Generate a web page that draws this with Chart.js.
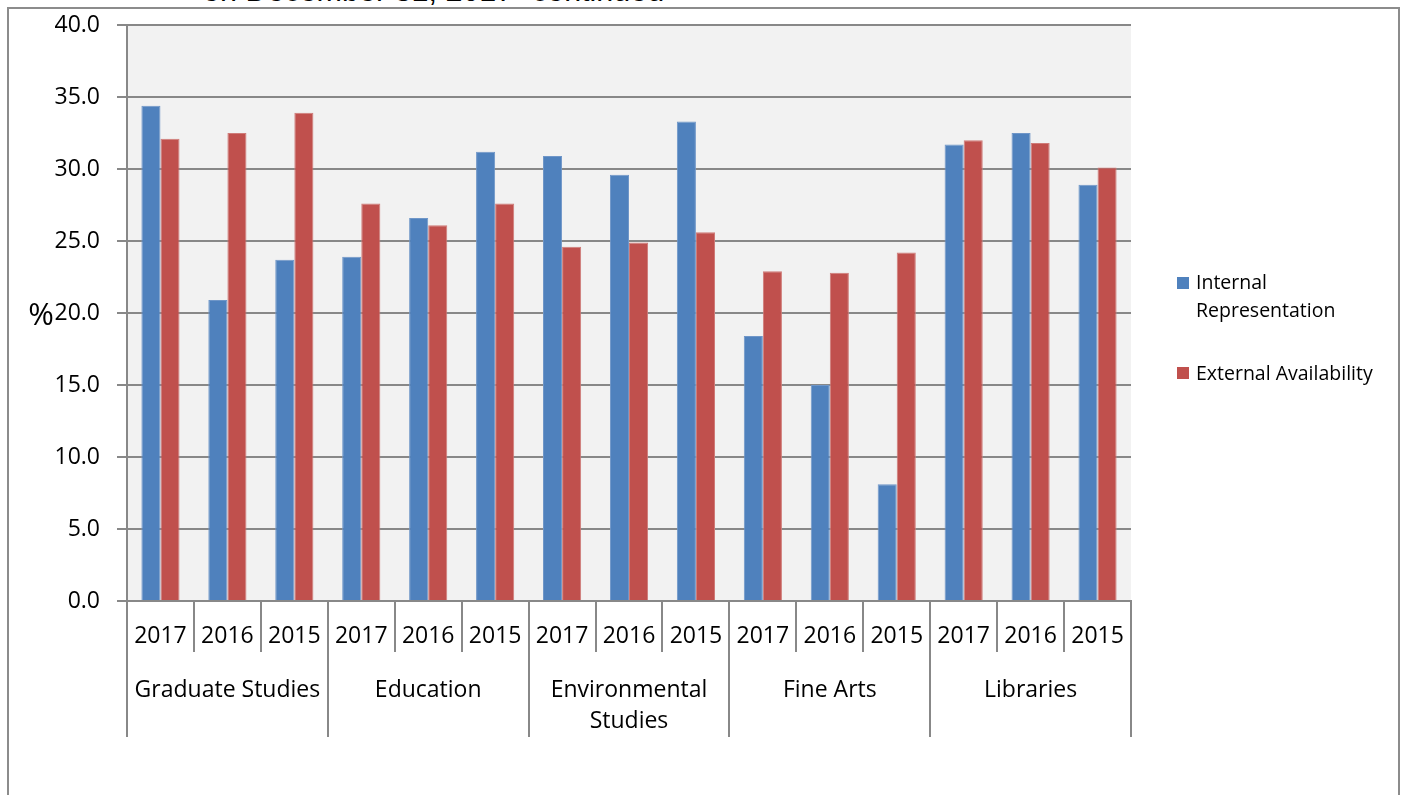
<!DOCTYPE html>
<html>
<head>
<meta charset="utf-8">
<script src="https://cdn.jsdelivr.net/npm/chart.js@4"></script>
<style>
    body { margin: 0; width: 1401px; height: 795px; overflow: hidden; background: #fff; position: relative; }
    #frame { position: absolute; left: 7px; top: 7px; width: 1389px; height: 820px; border: 2px solid #8c8c8c; }
    #title { position: absolute; left: 203px; top: -25px; font: 30.5px "Liberation Sans", Arial, sans-serif; line-height: 30px; white-space: nowrap; color: #000; }
    canvas { position: absolute; left: 0; top: 0; }
    .legend-box { position: absolute; width: 12px; height: 12px; }
    .legend-text { position: absolute; left: 1196px; font: 19.5px "Open Sans", sans-serif; line-height: 28px; color: #000; white-space: nowrap; }
</style>
</head>
<body>
<div id="frame"></div>
<div id="title">on December 31, 2017 -continued</div>
<canvas id="chart" width="1401" height="795"></canvas>
<div class="legend-box" style="left:1177px; top:277px; background:#4f81bd;"></div>
<div class="legend-text" style="top:268px;">Internal<br>Representation</div>
<div class="legend-box" style="left:1177px; top:367px; background:#c0504d;"></div>
<div class="legend-text" style="top:359px;">External Availability</div>
<script>
// Datos del gráfico.
const GROUPS = ['Graduate Studies', 'Education', ['Environmental', 'Studies'], 'Fine Arts', 'Libraries'];
const YEARS = ['2017', '2016', '2015'];
const INTERNAL = [34.4, 20.9, 23.7, 23.9, 26.6, 31.2, 30.9, 29.6, 33.3, 18.4, 15.0, 8.1, 31.7, 32.5, 28.9];
const EXTERNAL = [32.1, 32.5, 33.9, 27.6, 26.1, 27.6, 24.6, 24.9, 25.6, 22.9, 22.8, 24.2, 32.0, 31.8, 30.1];
const Y_MIN = 0;
const Y_MAX = 40;
const Y_STEP = 5;

const GRID = '#888888';
const FONT = { family: '"Open Sans", sans-serif', size: 23, lineHeight: 1 };

// Etiquetas del eje x: cada año dentro de cada grupo.
const LABELS = GROUPS.flatMap(() => YEARS);

// Fondo gris del área de trazado.
const plotBackground = {
    id: 'plotBackground',
    beforeDraw: (chart) => {
        const { ctx, chartArea: a } = chart;
        ctx.save();
        ctx.fillStyle = '#f2f2f2';
        ctx.fillRect(a.left, a.top, a.right - a.left, a.bottom - a.top);
        ctx.restore();
    }
};

// Segundo nivel del eje x (grupos) y el símbolo % del eje y.
const groupAxis = {
    id: 'groupAxis',
    afterDraw: (chart) => {
        const { ctx } = chart;
        const x = chart.scales.x;
        const half = (x.getPixelForValue(1) - x.getPixelForValue(0)) / 2;
        ctx.save();
        ctx.strokeStyle = GRID;
        ctx.lineWidth = 2;
        for (let i = 0; i <= GROUPS.length; i++) {
            const px = Math.round(x.getPixelForValue(i * YEARS.length) - half);
            ctx.beginPath();
            ctx.moveTo(px, x.top);
            ctx.lineTo(px, x.top + 136);
            ctx.stroke();
        }
        ctx.fillStyle = '#000';
        ctx.font = `${FONT.size}px ${FONT.family}`;
        ctx.textAlign = 'center';
        ctx.textBaseline = 'middle';
        GROUPS.forEach((g, i) => {
            const cx = x.getPixelForValue(i * YEARS.length + 1);
            const lines = Array.isArray(g) ? g : [g];
            lines.forEach((line, j) => ctx.fillText(line, cx, x.top + 89 + j * 31));
        });
        ctx.font = `31px ${FONT.family}`;
        ctx.textAlign = 'right';
        ctx.textBaseline = 'alphabetic';
        ctx.fillText('%', 54, 325);
        ctx.restore();
    }
};

new Chart(document.getElementById('chart'), {
    type: 'bar',
    data: {
        labels: LABELS,
        datasets: [{
            label: 'Internal Representation',
            data: INTERNAL,
            backgroundColor: '#4f81bd',
            borderColor: '#6f96c8',
            borderWidth: 1
        }, {
            label: 'External Availability',
            data: EXTERNAL,
            backgroundColor: '#c0504d',
            borderColor: '#cf7b78',
            borderWidth: 1
        }]
    },
    options: {
        responsive: false,
        animation: false,
        layout: { padding: { top: 25, right: 270, bottom: 143, left: 0 } },
        datasets: { bar: { categoryPercentage: 0.57, barPercentage: 1 } },
        plugins: {
            legend: { display: false },
            tooltip: { enabled: false }
        },
        scales: {
            x: {
                offset: true,
                grid: { offset: true, drawOnChartArea: false, drawTicks: true, tickLength: 51, color: GRID, lineWidth: 2 },
                border: { color: GRID, width: 2 },
                ticks: { color: '#000', font: FONT, padding: -27, autoSkip: false, maxRotation: 0 },
                afterFit: (s) => { s.height = 51; s.paddingLeft = 0; s.paddingRight = 0; }
            },
            y: {
                min: Y_MIN,
                max: Y_MAX,
                ticks: { stepSize: Y_STEP, color: '#000', font: FONT, padding: 17, callback: (v) => v.toFixed(1) },
                grid: { color: GRID, lineWidth: 2, tickLength: 10 },
                border: { color: GRID, width: 2 },
                afterFit: (s) => { s.width = 127; s.paddingTop = 0; s.paddingBottom = 0; }
            }
        }
    },
    plugins: [plotBackground, groupAxis]
});
</script>
</body>
</html>
